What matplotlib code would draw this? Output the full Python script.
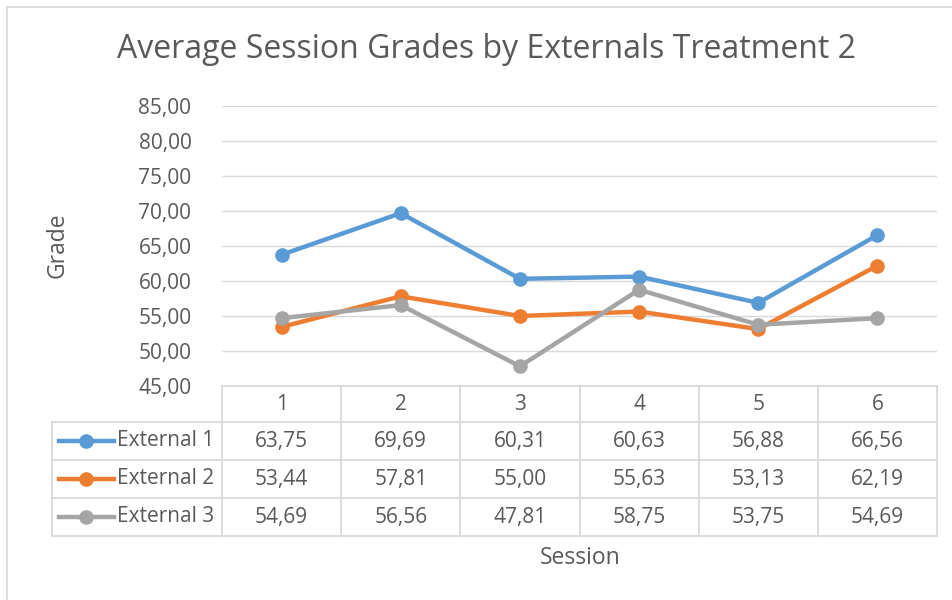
import matplotlib.pyplot as plt
from matplotlib.lines import Line2D
from matplotlib.patches import Rectangle
from matplotlib.ticker import FuncFormatter, MultipleLocator

# données
sessions = [1, 2, 3, 4, 5, 6]
series_names = ["External 1", "External 2", "External 3"]
external_1 = [63.75, 69.69, 60.31, 60.63, 56.88, 66.56]
external_2 = [53.44, 57.81, 55.00, 55.63, 53.13, 62.19]
external_3 = [54.69, 56.56, 47.81, 58.75, 53.75, 54.69]
colors = ["#5B9BD5", "#ED7D31", "#A5A5A5"]

plt.rcParams["font.family"] = ["Open Sans", "DejaVu Sans"]
TXT = "#595959"
GRID = "#D9D9D9"
FS = 15

W, H = 952, 600
fig = plt.figure(figsize=(W / 100, H / 100), dpi=100)

# zone de tracé (en pixels)
L, R, T, B = 222, 937, 106, 386
ax = fig.add_axes([L / W, 1 - B / H, (R - L) / W, (B - T) / H])

def fy(py):
    # pixel y -> fraction d'axe
    return (B - py) / (B - T)

def fx(px):
    return (px - L) / (R - L)

all_series = [external_1, external_2, external_3]
for vals, name, c in zip(all_series, series_names, colors):
    ax.plot(sessions, vals, color=c, lw=3.2, marker="o", ms=9.5, label=name,
            solid_capstyle="round", zorder=3)

ax.set_xlim(0.5, 6.5)
ax.set_ylim(45, 85)
ax.yaxis.set_major_locator(MultipleLocator(5))
ax.yaxis.set_major_formatter(FuncFormatter(lambda v, p: f"{v:.2f}".replace(".", ",")))
ax.grid(axis="y", color=GRID, lw=1)
ax.set_xticks([])
ax.tick_params(axis="y", length=0, pad=22, labelsize=FS, labelcolor=TXT)
for s in ax.spines.values():
    s.set_visible(False)

# tableau de données
rows_y = [386, 422, 460, 498, 536]
col_x = [L + i * (R - L) / 6 for i in range(7)]
lk = dict(color=GRID, lw=1.3, transform=ax.transAxes, clip_on=False)
ax.add_line(Line2D([0, 1], [fy(386)] * 2, **lk))
for py in rows_y[1:]:
    ax.add_line(Line2D([fx(52), 1], [fy(py)] * 2, **lk))
for px in col_x:
    ax.add_line(Line2D([fx(px)] * 2, [fy(386), fy(536)], **lk))
ax.add_line(Line2D([fx(52)] * 2, [fy(422), fy(536)], **lk))

tk = dict(ha="center", va="center", fontsize=FS, color=TXT,
          transform=ax.transAxes, clip_on=False)
for i, s in enumerate(sessions):
    ax.text(fx((col_x[i] + col_x[i + 1]) / 2), fy(404), str(s), **tk)
for r, (vals, name, c) in enumerate(zip(all_series, series_names, colors)):
    yc = fy((rows_y[r + 1] + rows_y[r + 2]) / 2)
    for i, v in enumerate(vals):
        ax.text(fx((col_x[i] + col_x[i + 1]) / 2), yc, f"{v:.2f}".replace(".", ","), **tk)
    ax.add_line(Line2D([fx(59), fx(114)], [yc, yc], color=c, lw=3.2,
                       transform=ax.transAxes, clip_on=False))
    ax.add_line(Line2D([fx(86)], [yc], color=c, marker="o", ms=9.5,
                       transform=ax.transAxes, clip_on=False))
    ax.text(fx(117), yc, name, ha="left", va="center", fontsize=FS, color=TXT,
            transform=ax.transAxes, clip_on=False)

# titres
fig.text(487 / W, 1 - 50 / H, "Average Session Grades by Externals Treatment 2",
         ha="center", va="center", fontsize=23, color=TXT)
fig.text(58 / W, 1 - 245 / H, "Grade", ha="center", va="center",
         rotation=90, fontsize=16.5, color=TXT)
fig.text(580 / W, 1 - 558 / H, "Session", ha="center", va="center",
         fontsize=16.5, color=TXT)

# cadre du graphique
fig.patches.append(Rectangle((7 / W, -0.1), 1.1, 1 - 7 / H + 0.1, transform=fig.transFigure,
                             fill=False, edgecolor=GRID, lw=1.3))

fig.savefig("out.png", dpi=100, facecolor="white")
